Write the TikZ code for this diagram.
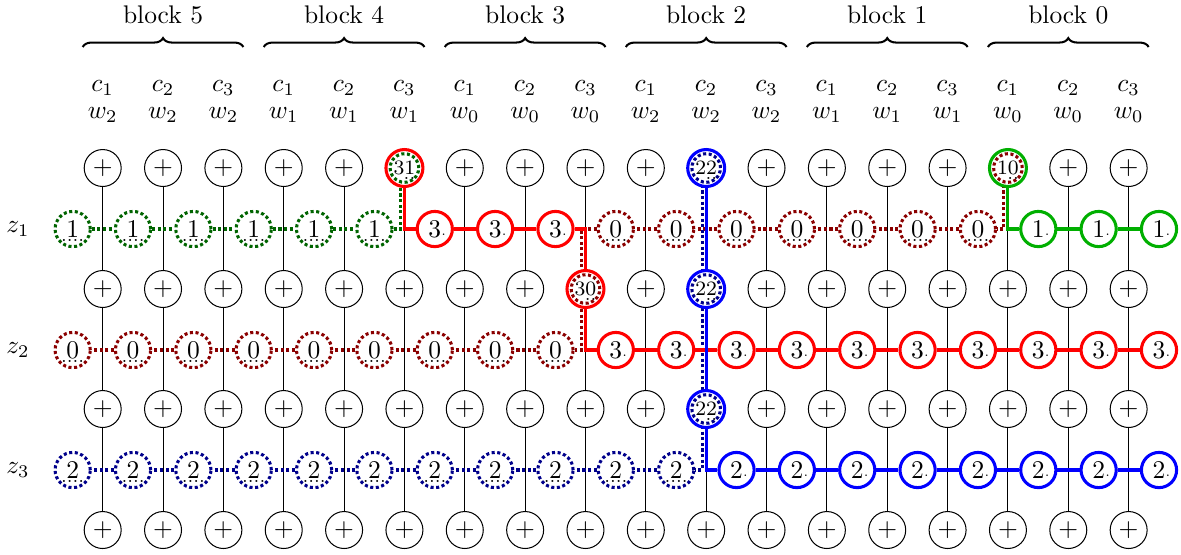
\documentclass[tikz,border=0pt]{standalone}
\usetikzlibrary{backgrounds,decorations.pathreplacing}
\definecolor{dgreen}{RGB}{0,100,0}
\definecolor{dred}{RGB}{139,0,0}
\definecolor{dblue}{RGB}{0,0,139}
\definecolor{lgreen}{RGB}{0,175,0}
\newcommand{\du}[1]{\ooalign{$#1$\cr\hidewidth\smash{\raisebox{-1.8pt}{\scriptsize....}}\hidewidth\cr}}
\newcommand{\sd}[1]{$#1$\rlap{\raisebox{0.6pt}{\tiny.}}}
\newcommand{\dd}[1]{{\fontsize{8.2}{9}\selectfont\ooalign{$#1$\cr\hfil\smash{\raisebox{-1.8pt}{\scriptsize..}}\cr}}}
\tikzset{
  plus/.style={circle,draw,line width=0.4pt,fill=white,minimum size=14.5pt,inner sep=0pt},
  zn/.style={circle,fill=white,minimum size=13.8pt,inner sep=0pt,line width=1.2pt},
  dotn/.style={zn,draw=#1,dash pattern=on 1.2pt off 1pt},
  soln/.style={zn,draw=#1},
  twin/.style={circle,fill=white,minimum size=14.5pt,inner sep=0pt,line width=1.2pt,draw=#1},
  dotl/.style={draw=#1,line width=1.2pt,dash pattern=on 1.2pt off 1pt},
  soll/.style={draw=#1,line width=1.2pt},
  gridl/.style={draw=black,line width=0.4pt,solid},
  bracel/.style={decorate,decoration={brace,amplitude=3.5pt},line width=0.8pt},
}
\pgfdeclarelayer{gridlayer}
\pgfdeclarelayer{connlayer}
\pgfsetlayers{gridlayer,connlayer,main}
\def\bx{102.68}
\def\bz{72.68}
\begin{document}
\begin{tikzpicture}[x=0.3922pt,y=-0.3922pt]
\useasboundingbox (0,0) rectangle (1181,554);
% header
\foreach \c in {1,...,18}{
  \pgfmathtruncatemacro\ci{mod(\c-1,3)+1}
  \pgfmathtruncatemacro\wi{mod(5-int((\c-1)/3),3)}
  \node (c-\c) at ({\bx+(\c-1)*60.35},88) {$c_{\ci}$};
  \node (w-\c) at ({\bx+(\c-1)*60.35},115) {$w_{\wi}$};
}
\foreach \b in {0,...,5}{
  \pgfmathsetmacro\xl{\bx+(3*(5-\b))*60.35-20}
  \pgfmathsetmacro\xr{\bx+(3*(5-\b)+2)*60.35+20}
  \pgfmathsetmacro\xm{\bx+(3*(5-\b)+1)*60.35}
  \coordinate (bl-\b) at (\xl,47);
  \coordinate (br-\b) at (\xr,47);
  \draw[bracel] (bl-\b) -- (br-\b);
  \node (blk-\b) at (\xm,15) {block \b};
}
% row labels
\node (zl-1) at (18,229) {$z_1$};
\node (zl-2) at (18,350) {$z_2$};
\node (zl-3) at (18,470) {$z_3$};
% plus grid
\foreach \r/\yy in {1/168,2/289,3/409,4/530}{
  \foreach \c in {1,...,18}{
    \pgfmathtruncatemacro\sk{((\r==1)&&((\c==6)||(\c==11)||(\c==16)))||((\r==2)&&((\c==9)||(\c==11)))||((\r==3)&&(\c==11))}
    \ifnum\sk=0 \node[plus] (p-\r-\c) at ({\bx+(\c-1)*60.35},\yy) {$+$};\fi
  }
}
% special nodes
\node[twin=red] (p-1-6) at ({\bx+5*60.35},168) {\dd{31}};
\draw[dotl=dgreen] (p-1-6.center) circle (5.6pt);
\node[twin=red] (p-2-9) at ({\bx+8*60.35},289) {\dd{30}};
\draw[dotl=dred] (p-2-9.center) circle (5.6pt);
\node[twin=blue] (p-1-11) at ({\bx+10*60.35},168) {\dd{22}};
\draw[dotl=dblue] (p-1-11.center) circle (5.6pt);
\node[twin=blue] (p-2-11) at ({\bx+10*60.35},289) {\dd{22}};
\draw[dotl=dblue] (p-2-11.center) circle (5.6pt);
\node[twin=blue] (p-3-11) at ({\bx+10*60.35},409) {\dd{22}};
\draw[dotl=dblue] (p-3-11.center) circle (5.6pt);
\node[twin=lgreen] (p-1-16) at ({\bx+15*60.35},168) {\dd{10}};
\draw[dotl=dred] (p-1-16.center) circle (5.6pt);
% z nodes
\foreach \k in {1,...,6} \node[dotn=dgreen] (z1-\k) at ({\bz+(\k-1)*60.35},229) {\du{1}};
\foreach \k in {7,8,9} \node[soln=red] (z1-\k) at ({\bz+(\k-1)*60.35},229) {\sd{3}};
\foreach \k in {10,...,16} \node[dotn=dred] (z1-\k) at ({\bz+(\k-1)*60.35},229) {\du{0}};
\foreach \k in {17,18,19} \node[soln=lgreen] (z1-\k) at ({\bz+(\k-1)*60.35},229) {\sd{1}};
\foreach \k in {1,...,9} \node[dotn=dred] (z2-\k) at ({\bz+(\k-1)*60.35},350) {\du{0}};
\foreach \k in {10,...,19} \node[soln=red] (z2-\k) at ({\bz+(\k-1)*60.35},350) {\sd{3}};
\foreach \k in {1,...,11} \node[dotn=dblue] (z3-\k) at ({\bz+(\k-1)*60.35},470) {\du{2}};
\foreach \k in {12,...,19} \node[soln=blue] (z3-\k) at ({\bz+(\k-1)*60.35},470) {\sd{2}};
% grid lines
\begin{pgfonlayer}{gridlayer}
\foreach \c in {1,...,18} \draw[gridl] (p-1-\c) -- (p-4-\c);
\end{pgfonlayer}
% connectors
\begin{pgfonlayer}{connlayer}
\draw[dotl=dgreen] (z1-1) -- (z1-2) -- (z1-3) -- (z1-4) -- (z1-5) -- (z1-6) -| ([xshift=-1.6pt]p-1-6.center);
\draw[dotl=dred] ([xshift=-1.6pt]p-1-16.center) |- (z1-16) -- (z1-15) -- (z1-14) -- (z1-13) -- (z1-12) -- (z1-11) -- (z1-10) -| ([xshift=-1.6pt]p-2-9.center) |- (z2-9) -- (z2-8) -- (z2-7) -- (z2-6) -- (z2-5) -- (z2-4) -- (z2-3) -- (z2-2) -- (z2-1);
\draw[dotl=dblue] ([xshift=-1.6pt]p-1-11.center) |- (z3-11) -- (z3-10) -- (z3-9) -- (z3-8) -- (z3-7) -- (z3-6) -- (z3-5) -- (z3-4) -- (z3-3) -- (z3-2) -- (z3-1);
\draw[soll=red] (p-1-6) |- (z1-7) -- (z1-8) -- (z1-9) -| (p-2-9.center) |- (z2-10) -- (z2-11) -- (z2-12) -- (z2-13) -- (z2-14) -- (z2-15) -- (z2-16) -- (z2-17) -- (z2-18) -- (z2-19);
\draw[soll=lgreen] (p-1-16) |- (z1-17) -- (z1-18) -- (z1-19);
\draw[soll=blue] (p-1-11.center) |- (z3-12) -- (z3-13) -- (z3-14) -- (z3-15) -- (z3-16) -- (z3-17) -- (z3-18) -- (z3-19);
\end{pgfonlayer}
\end{tikzpicture}
\end{document}
